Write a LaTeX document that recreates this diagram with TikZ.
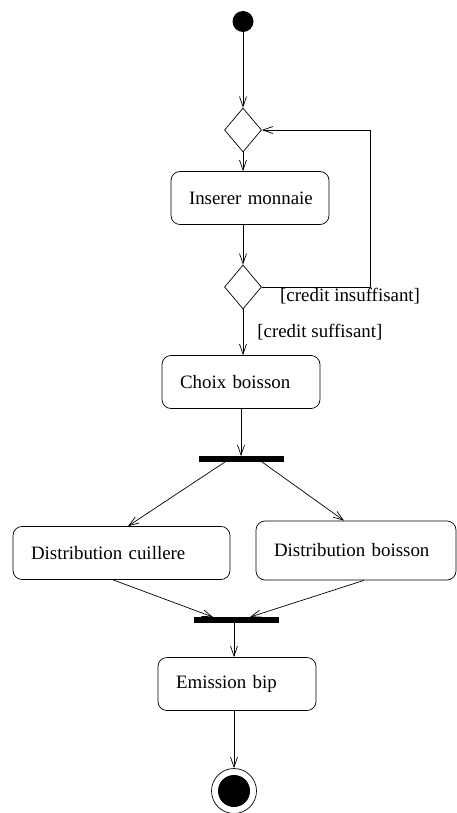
\documentclass[tikz,border=0pt]{standalone}
\usepackage{fontspec}
\setmainfont{Liberation Serif}
\usetikzlibrary{shapes.geometric, arrows.meta, positioning, calc}
\hyphenpenalty=10000
\exhyphenpenalty=10000

\begin{document}
\begin{tikzpicture}[
    x=1pt, y=-1pt,
    font=\fontsize{18.9}{22}\selectfont,
    activity/.style={draw, rectangle, rounded corners=9pt, align=left, inner xsep=18pt, inner ysep=0pt, minimum height=53pt, text width=#1, line width=0.7pt},
    choice/.style={draw, diamond, inner sep=0pt, minimum width=37pt, minimum height=44pt, line width=0.7pt},
    sync/.style={fill=black, rectangle, inner sep=0pt, minimum width=85pt, minimum height=5.5pt},
    initial/.style={circle, fill=black, inner sep=0pt, minimum size=21pt},
    final/.style={circle, draw, inner sep=0pt, minimum size=45pt, line width=0.7pt, path picture={\fill (path picture bounding box.center) circle (16pt);}},
    arrow/.style={-{Straight Barb[length=10pt, width=7pt]}, line width=0.7pt}
]
\useasboundingbox (0,0) rectangle (457,813);

% Noeuds
\node (start) [initial] at (243,21.5) {};
\node (test) [choice] at (243,130) {};
\node (insert) [activity=122pt] at (250,198) {\mbox{Inserer monnaie}};
\node (check) [choice] at (243,287) {};
\node (choose) [activity=122pt] at (241,382) {\mbox{Choix boisson}};
\node (fork) [sync] at (241,459) {};
\node (spoon) [activity=181pt] at (121.5,553) {\mbox{Distribution cuillere}};
\node (drink) [activity=164pt, minimum height=59pt] at (356,550.5) {\mbox{Distribution boisson}};
\node (join) [sync] at (236,620) {};
\node (beep) [activity=122pt] at (237,684) {\mbox{Emission bip}};
\node (stop) [final] at (234,791) {};

% Fleches
\draw [arrow] (start) -- (test);
\draw [arrow] (test.south) -- (test.south |- insert.north);
\draw [arrow] (insert.south -| test) -- (check);
\draw [arrow] (check) -- node[midway, right=14pt, inner sep=0pt] {[credit suffisant]} (check |- choose.north);
\draw [arrow] (check.east) node[anchor=west, inner sep=0pt, xshift=18pt, yshift=-9pt] {[credit insuffisant]} -- ++(108,0) |- (test.east);
\draw [arrow] (choose) -- (choose |- fork.north);
\draw [arrow] ($(fork.south)+(-16,0)$) -- ($(spoon.north)+(6.5,0)$);
\draw [arrow] ($(fork.south)+(21,0)$) -- ($(drink.north)+(-12,0)$);
\draw [arrow] ($(spoon.south)+(-8.5,0)$) -- ($(join.north)+(-23,0)$);
\draw [arrow] ($(drink.south)+(8,0)$) -- ($(join.north)+(14,0)$);
\draw [arrow] (join.south -| stop) -- (beep.north -| stop);
\draw [arrow] (beep.south -| stop) -- (stop);

\end{tikzpicture}
\end{document}
